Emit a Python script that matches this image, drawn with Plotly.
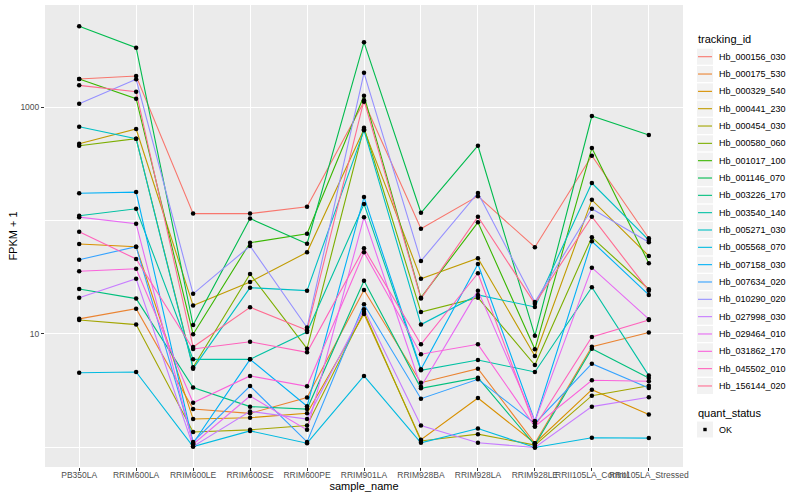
import plotly.graph_objects as go

samples = ["PB350LA", "RRIM600LA", "RRIM600LE", "RRIM600SE", "RRIM600PE",
           "RRIM901LA", "RRIM928BA", "RRIM928LA", "RRIM928LE",
           "RRII105LA_Control", "RRII105LA_Stressed"]

tracking_ids = ["Hb_000156_030", "Hb_000175_530", "Hb_000329_540", "Hb_000441_230",
                "Hb_000454_030", "Hb_000580_060", "Hb_001017_100", "Hb_001146_070",
                "Hb_003226_170", "Hb_003540_140", "Hb_005271_030", "Hb_005568_070",
                "Hb_007158_030", "Hb_007634_020", "Hb_010290_020", "Hb_027998_030",
                "Hb_029464_010", "Hb_031862_170", "Hb_045502_010", "Hb_156144_020"]

colors = ["#F8766D", "#EA8331", "#D89000", "#C09B00", "#A3A500", "#7CAE00", "#39B600",
          "#00BB4E", "#00BF7D", "#00C1A3", "#00BFC4", "#00BAE0", "#00B0F6", "#35A2FF",
          "#9590FF", "#C77CFF", "#E76BF3", "#FA62DB", "#FF62BC", "#FF6C91"]

quant_status = ["OK"]

# FPKM + 1 per sample, one list per tracking_id
Hb_000156_030 = [1766, 1875, 115, 115, 132, 1114, 84.7, 164, 58.1, 372, 69.7]
Hb_000175_530 = [13.6, 16.7, 2.18, 2.00, 2.75, 24.4, 3.72, 4.95, 1.09, 7.73, 10.3]
Hb_000329_540 = [62.1, 58.8, 1.78, 1.83, 2.00, 15.0, 1.17, 2.73, 1.09, 3.23, 1.95]
Hb_000441_230 = [475, 640, 17.8, 28.7, 52.5, 636, 30.7, 46.5, 6.40, 152, 48.7]
Hb_000454_030 = [13.3, 12.1, 1.37, 1.43, 1.56, 15.6, 1.14, 1.31, 1.05, 2.86, 3.50]
Hb_000580_060 = [456, 526, 5.09, 33.8, 7.42, 657, 15.6, 20.9, 5.33, 71.1, 24.8]
Hb_001017_100 = [1766, 1183, 9.94, 63.7, 76.5, 1259, 20.9, 96.4, 7.33, 435, 42.0]
Hb_001146_070 = [5140, 3330, 12.0, 104, 62.5, 3715, 117, 456, 9.66, 833, 566]
Hb_003226_170 = [24.9, 20.5, 3.37, 2.29, 2.18, 29.5, 3.32, 4.12, 1.05, 7.42, 4.10]
Hb_003540_140 = [110, 127, 5.98, 5.98, 10.4, 140, 4.79, 5.90, 4.63, 25.8, 4.30]
Hb_005271_030 = [670, 526, 4.95, 25.6, 24.1, 623, 12.1, 22.1, 17.3, 214, 67.3]
Hb_005568_070 = [4.56, 4.63, 1.02, 1.40, 1.09, 4.27, 1.10, 1.47, 1.0, 1.22, 1.21]
Hb_007158_030 = [174, 178, 1.09, 5.98, 2.31, 161, 4.89, 41.4, 1.70, 65.6, 22.1]
Hb_007634_020 = [45.1, 58.8, 1.12, 3.48, 1.12, 18.3, 2.69, 3.99, 1.63, 5.48, 3.34]
Hb_010290_020 = [1069, 1754, 22.6, 59.6, 11.4, 2000, 44.0, 175, 19.1, 127, 64.3]
Hb_027998_030 = [20.9, 30.7, 1.02, 2.08, 1.78, 16.5, 1.56, 1.10, 1.0, 2.29, 2.77]
Hb_029464_010 = [107, 93.7, 1.07, 2.84, 1.43, 107, 3.43, 24.1, 1.70, 38.4, 13.5]
Hb_031862_170 = [35.7, 37.6, 2.48, 4.27, 3.46, 52.5, 6.63, 8.11, 1.53, 3.91, 3.83]
Hb_045502_010 = [79.7, 45.8, 7.38, 8.55, 6.90, 56.9, 8.11, 34.3, 1.53, 9.41, 13.3]
Hb_156144_020 = [1553, 1364, 7.68, 17.2, 10.8, 1146, 20.5, 108, 18.5, 108, 24.1]

series = [Hb_000156_030, Hb_000175_530, Hb_000329_540, Hb_000441_230, Hb_000454_030,
          Hb_000580_060, Hb_001017_100, Hb_001146_070, Hb_003226_170, Hb_003540_140,
          Hb_005271_030, Hb_005568_070, Hb_007158_030, Hb_007634_020, Hb_010290_020,
          Hb_027998_030, Hb_029464_010, Hb_031862_170, Hb_045502_010, Hb_156144_020]

FONT = "Liberation Sans, Arial, Helvetica, sans-serif"
W, H = 800, 500
ML, MR, MT, MB = 45, 117, 5, 33
PW, PH = W - ML - MR, H - MT - MB


def px_x(px):
    return (px - ML) / PW


def px_y(py):
    return (H - MB - py) / PH


fig = go.Figure()
for name, vals, col in zip(tracking_ids, series, colors):
    fig.add_trace(go.Scatter(x=samples, y=vals, mode="lines", name=name,
                             line=dict(color=col, width=1.1), showlegend=False))

all_x, all_y = [], []
for vals in series:
    all_x += samples
    all_y += vals
fig.add_trace(go.Scatter(x=all_x, y=all_y, mode="markers", name=quant_status[0],
                         marker=dict(color="black", size=4.5, symbol="circle"),
                         showlegend=False))

# ---- manual ggplot-style legends ----
shapes, annotations = [], []
LX0, LX1, TX = 697, 713, 716.5
annotations.append(dict(text="tracking_id", x=px_x(696), y=px_y(38.5), xref="paper", yref="paper",
                        xanchor="left", yanchor="middle", showarrow=False,
                        font=dict(size=11, color="black", family=FONT)))
for i, (name, col) in enumerate(zip(tracking_ids, colors)):
    cy = 56.7 + 17.33 * i
    shapes.append(dict(type="rect", xref="paper", yref="paper",
                       x0=px_x(LX0), x1=px_x(LX1), y0=px_y(cy - 8), y1=px_y(cy + 8),
                       fillcolor="#F2F2F2", line=dict(width=0), layer="above"))
    shapes.append(dict(type="line", xref="paper", yref="paper",
                       x0=px_x(LX0 + 1), x1=px_x(LX1 - 1), y0=px_y(cy), y1=px_y(cy),
                       line=dict(color=col, width=1.1), layer="above"))
    annotations.append(dict(text=name, x=px_x(TX), y=px_y(cy), xref="paper", yref="paper",
                            xanchor="left", yanchor="middle", showarrow=False,
                            font=dict(size=9, color="black", family=FONT)))

annotations.append(dict(text="quant_status", x=px_x(696), y=px_y(412.5), xref="paper", yref="paper",
                        xanchor="left", yanchor="middle", showarrow=False,
                        font=dict(size=11, color="black", family=FONT)))
cy = 429.5
shapes.append(dict(type="rect", xref="paper", yref="paper",
                   x0=px_x(LX0), x1=px_x(LX1), y0=px_y(cy - 8), y1=px_y(cy + 8),
                   fillcolor="#F2F2F2", line=dict(width=0), layer="above"))
shapes.append(dict(type="rect", xref="paper", yref="paper",
                   x0=px_x(703.3), x1=px_x(706.7), y0=px_y(cy - 1.7), y1=px_y(cy + 1.7),
                   fillcolor="black", line=dict(width=0), layer="above"))
annotations.append(dict(text=quant_status[0], x=px_x(TX), y=px_y(cy), xref="paper", yref="paper",
                        xanchor="left", yanchor="middle", showarrow=False,
                        font=dict(size=9, color="black", family=FONT)))

fig.update_layout(
    width=W, height=H,
    margin=dict(l=ML, r=MR, t=MT, b=MB, autoexpand=False),
    paper_bgcolor="white", plot_bgcolor="#EBEBEB",
    font=dict(family=FONT, color="black"),
    showlegend=False,
    shapes=shapes, annotations=annotations,
)

fig.update_xaxes(type="category", categoryorder="array", categoryarray=samples,
                 range=[-0.6, 10.6], showgrid=True, gridcolor="white", gridwidth=1.1,
                 ticks="outside", ticklen=3, tickcolor="#333333", tickangle=0,
                 ticklabelstandoff=-3,
                 tickfont=dict(size=8.5, color="#4D4D4D"), zeroline=False, showline=False,
                 automargin=False,
                 title=dict(text="sample_name", font=dict(size=11, color="black"), standoff=0))

fig.update_yaxes(type="log", range=[-0.172, 3.899], tickmode="array",
                 tickvals=[10, 1000], ticktext=["10", "1000"],
                 showgrid=True, gridcolor="white", gridwidth=1.1,
                 minor=dict(tickmode="array", tickvals=[1, 100], showgrid=True,
                            gridcolor="white", gridwidth=0.5, ticks=""),
                 ticks="outside", ticklen=3, tickcolor="#333333", automargin=False,
                 tickfont=dict(size=8.5, color="#4D4D4D"), zeroline=False, showline=False,
                 title=dict(text="FPKM + 1", font=dict(size=11, color="black"), standoff=0))

fig.write_html("out.html", config={"displayModeBar": False},
               post_script="document.body.style.margin='0';document.body.style.overflow='hidden';")
